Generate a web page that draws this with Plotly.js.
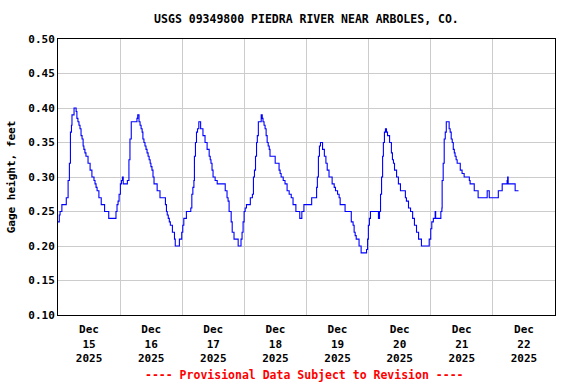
<!DOCTYPE html>
<html>
<head>
<meta charset="utf-8">
<script src="https://cdn.plot.ly/plotly-3.0.1.min.js"></script>
<style>html,body{margin:0;padding:0;background:#fff;}#chart{width:576px;height:384px;}</style>
</head>
<body>
<div id="chart"></div>
<script>
// Hours since 2025-12-15 00:00 (local) at which the gage height changed
const hours = [
  0.0, 0.5, 0.8, 1.5, 3.2, 3.9, 4.4, 4.8, 5.2, 5.4, 6.2, 7.0, 7.3, 7.7, 8.1, 8.5, 8.9, 9.3, 9.7, 10.0,
  10.4, 10.8, 11.6, 12.4, 13.1, 13.9, 14.3, 14.7, 15.1, 15.8, 16.7, 18.0, 19.6, 22.4, 22.8, 23.2, 23.6, 24.1, 24.5, 24.9,
  25.2, 26.8, 27.4, 27.8, 28.3, 30.5, 30.8, 31.3, 31.7, 32.1, 32.5, 32.8, 33.2, 33.6, 34.0, 34.4, 34.8, 35.2, 35.6, 35.9,
  36.3, 36.7, 37.1, 38.3, 39.4, 41.5, 41.9, 42.2, 42.6, 43.0, 43.4, 44.2, 45.0, 45.3, 46.9, 47.8, 48.2, 48.6, 49.6, 51.3,
  51.7, 52.1, 52.5, 52.7, 53.1, 53.5, 53.9, 54.4, 55.1, 56.0, 56.8, 57.6, 58.4, 58.8, 59.1, 59.5, 59.9, 60.7, 61.5, 64.6,
  65.3, 65.7, 66.1, 66.9, 67.3, 68.0, 69.6, 70.7, 71.1, 71.5, 71.9, 72.3, 72.8, 74.3, 75.1, 75.5, 75.9, 76.3, 76.7, 77.0,
  77.4, 78.5, 78.9, 79.2, 79.6, 80.0, 80.4, 80.8, 81.2, 81.6, 81.9, 83.9, 85.4, 85.8, 86.2, 87.0, 87.7, 88.5, 89.3, 90.1,
  90.8, 91.9, 93.4, 94.2, 95.0, 98.0, 99.9, 100.2, 100.6, 101.0, 101.4, 102.2, 102.9, 103.5, 104.0, 104.7, 105.9, 106.7, 107.2, 108.0,
  108.6, 109.0, 110.9, 113.3, 114.0, 114.4, 114.8, 115.2, 116.3, 117.1, 119.2, 119.6, 119.9, 120.3, 120.7, 123.8, 124.2, 124.6, 125.0, 125.4,
  125.7, 126.1, 126.5, 126.9, 127.3, 128.1, 128.8, 129.2, 129.6, 130.0, 130.8, 131.5, 132.3, 134.2, 134.6, 135.4, 136.2, 137.0, 137.7, 138.5,
  139.3, 140.4, 143.4, 144.0, 144.4, 145.0, 145.7, 145.9, 147.9, 148.3, 148.4, 148.8, 149.2, 149.6, 150.0, 151.1, 151.5, 151.9, 152.3, 152.7,
  153.1, 153.4, 153.8, 154.2, 155.4, 156.1, 156.9, 158.9, 159.2, 160.8, 162.3, 165.8, 166.6, 170.1, 171.6, 173.5, 173.7, 173.9, 176.6, 177.9
];
// Gage height, feet
const gageHeight = [
  0.235, 0.245, 0.25, 0.26, 0.27, 0.295, 0.32, 0.365, 0.375, 0.39, 0.40, 0.395, 0.385, 0.38, 0.375, 0.37, 0.36, 0.355, 0.345, 0.34,
  0.335, 0.33, 0.32, 0.31, 0.30, 0.295, 0.29, 0.285, 0.28, 0.27, 0.26, 0.25, 0.24, 0.25, 0.26, 0.265, 0.275, 0.29, 0.295, 0.30,
  0.29, 0.295, 0.325, 0.355, 0.38, 0.385, 0.39, 0.38, 0.375, 0.37, 0.365, 0.355, 0.35, 0.345, 0.34, 0.335, 0.33, 0.325, 0.32, 0.315,
  0.31, 0.30, 0.29, 0.28, 0.27, 0.26, 0.25, 0.245, 0.24, 0.235, 0.23, 0.22, 0.21, 0.20, 0.21, 0.22, 0.23, 0.24, 0.25, 0.255,
  0.275, 0.285, 0.295, 0.33, 0.35, 0.365, 0.37, 0.38, 0.37, 0.36, 0.35, 0.34, 0.33, 0.325, 0.32, 0.31, 0.30, 0.295, 0.29, 0.28,
  0.27, 0.265, 0.25, 0.235, 0.22, 0.21, 0.20, 0.21, 0.22, 0.235, 0.25, 0.255, 0.26, 0.27, 0.275, 0.30, 0.31, 0.33, 0.35, 0.36,
  0.38, 0.39, 0.385, 0.38, 0.375, 0.37, 0.36, 0.35, 0.345, 0.34, 0.33, 0.32, 0.31, 0.305, 0.30, 0.295, 0.29, 0.28, 0.275, 0.27,
  0.26, 0.25, 0.24, 0.25, 0.26, 0.27, 0.285, 0.30, 0.33, 0.345, 0.35, 0.34, 0.33, 0.32, 0.31, 0.30, 0.29, 0.285, 0.28, 0.275,
  0.27, 0.26, 0.25, 0.235, 0.23, 0.22, 0.215, 0.21, 0.20, 0.19, 0.195, 0.21, 0.23, 0.24, 0.25, 0.24, 0.25, 0.275, 0.30, 0.33,
  0.35, 0.365, 0.37, 0.365, 0.36, 0.35, 0.335, 0.325, 0.32, 0.31, 0.30, 0.29, 0.28, 0.27, 0.265, 0.255, 0.25, 0.24, 0.23, 0.22,
  0.21, 0.20, 0.21, 0.225, 0.235, 0.24, 0.25, 0.24, 0.25, 0.255, 0.295, 0.32, 0.355, 0.365, 0.38, 0.37, 0.365, 0.355, 0.35, 0.34,
  0.335, 0.33, 0.325, 0.32, 0.31, 0.305, 0.30, 0.295, 0.29, 0.28, 0.27, 0.28, 0.27, 0.28, 0.29, 0.295, 0.30, 0.29, 0.28, 0.28
];
// Day labels (placed at noon of each day)
const tickHours = [12, 36, 60, 84, 108, 132, 156, 180];
const tickLabels = ["Dec<br>15<br>2025", "Dec<br>16<br>2025", "Dec<br>17<br>2025", "Dec<br>18<br>2025",
                    "Dec<br>19<br>2025", "Dec<br>20<br>2025", "Dec<br>21<br>2025", "Dec<br>22<br>2025"];

const FONT = "'DejaVu Sans Mono', 'Liberation Mono', monospace";

const trace = {
  x: hours,
  y: gageHeight,
  type: 'scatter',
  mode: 'lines',
  line: {color: '#0000ff', width: 1.1, shape: 'hv'},
  hoverinfo: 'skip'
};

const layout = {
  width: 576,
  height: 384,
  margin: {l: 58, r: 21, t: 39, b: 69},
  paper_bgcolor: '#ffffff',
  plot_bgcolor: '#ffffff',
  showlegend: false,
  font: {family: FONT, size: 11, color: '#000000', weight: 'bold'},
  title: {
    text: '<b>USGS 09349800 PIEDRA RIVER NEAR ARBOLES, CO.</b>',
    font: {family: FONT, size: 11.5, color: '#000000'},
    x: 0.532, xanchor: 'center', y: 0.95, yanchor: 'middle'
  },
  xaxis: {
    type: 'linear',
    range: [0, 192],
    tickmode: 'array',
    tickvals: tickHours,
    ticktext: tickLabels,
    ticks: '',
    ticklabelstandoff: 4,
    showgrid: false,
    zeroline: false,
    showline: true, mirror: true, linecolor: '#000000', linewidth: 1,
    tickfont: {family: FONT, size: 11, color: '#000000', weight: 'bold'},
    minor: {tick0: 0, dtick: 24, showgrid: true, gridcolor: '#cccccc', gridwidth: 1, ticks: ''},
    fixedrange: true
  },
  yaxis: {
    range: [0.10, 0.50],
    tick0: 0.10,
    dtick: 0.05,
    tickformat: '.2f',
    ticks: '',
    showgrid: true, gridcolor: '#cccccc', gridwidth: 1,
    zeroline: false,
    showline: true, mirror: true, linecolor: '#000000', linewidth: 1,
    tickfont: {family: FONT, size: 11, color: '#000000', weight: 'bold'},
    title: {text: '<b>Gage height, feet</b>', font: {family: FONT, size: 11, color: '#000000'}, standoff: 10},
    fixedrange: true
  },
  annotations: [{
    text: '<b>---- Provisional Data Subject to Revision ----</b>',
    xref: 'paper', yref: 'paper', x: 0.495, y: -0.218,
    xanchor: 'center', yanchor: 'middle', showarrow: false,
    font: {family: FONT, size: 11.5, color: '#ff0000'}
  }]
};

Plotly.newPlot('chart', [trace], layout, {displayModeBar: false, staticPlot: true});
</script>
</body>
</html>
